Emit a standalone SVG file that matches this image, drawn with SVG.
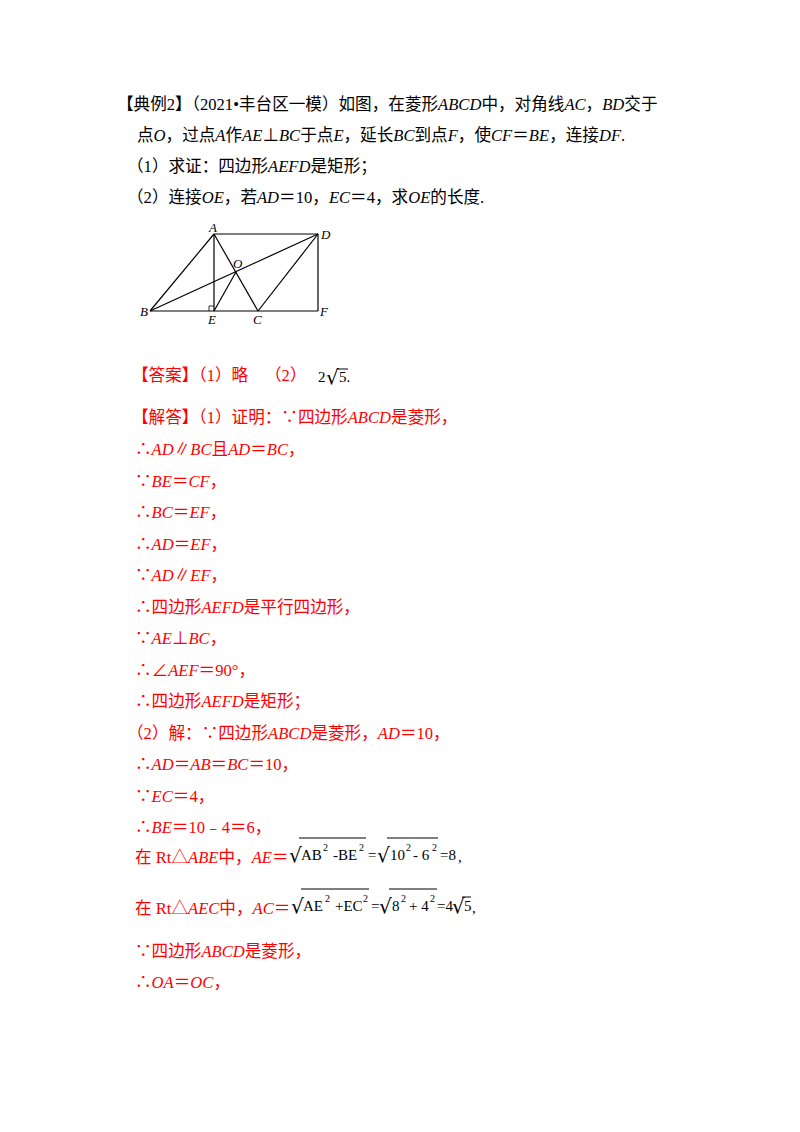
<svg xmlns="http://www.w3.org/2000/svg" width="800" height="1132" viewBox="0 0 800 1132">
<style>
text{font-family:"Liberation Serif","Noto Sans CJK SC",serif;font-size:16.6px;fill:#000}
.r{fill:#ff0000}
.i{font-style:italic}
.f{font-family:"Liberation Serif",serif;font-size:15px}
.q{font-family:"DejaVu Sans",sans-serif;font-size:20px}
.p{font-family:"Liberation Serif",serif;font-size:10px}
.lb{font-style:italic;font-size:13px}
line.g{stroke:#000;stroke-width:1.2}
line.s{stroke:#000;stroke-width:1}
</style>
<rect width="800" height="1132" fill="#fff"/>
<text x="117" y="110">【典例2】（2021•丰台区一模）如图，在菱形<tspan class="i">ABCD</tspan>中，对角线<tspan class="i">AC</tspan>，<tspan class="i">BD</tspan>交于</text>
<text x="137" y="141">点<tspan class="i">O</tspan>，过点<tspan class="i">A</tspan>作<tspan class="i">AE</tspan>⊥<tspan class="i">BC</tspan>于点<tspan class="i">E</tspan>，延长<tspan class="i">BC</tspan>到点<tspan class="i">F</tspan>，使<tspan class="i">CF</tspan>＝<tspan class="i">BE</tspan>，连接<tspan class="i">DF</tspan>.</text>
<text x="127" y="172">（1）求证：四边形<tspan class="i">AEFD</tspan>是矩形；</text>
<text x="127" y="203">（2）连接<tspan class="i">OE</tspan>，若<tspan class="i">AD</tspan>＝10，<tspan class="i">EC</tspan>＝4，求<tspan class="i">OE</tspan>的长度.</text>
<g id="figure">
<line class="g" x1="214" y1="234" x2="318" y2="234"/>
<line class="g" x1="150" y1="311" x2="318" y2="311"/>
<line class="g" x1="214" y1="234" x2="214" y2="311"/>
<line class="g" x1="318" y1="234" x2="318" y2="311"/>
<line class="g" x1="150" y1="311" x2="214" y2="234"/>
<line class="g" x1="214" y1="234" x2="258" y2="311"/>
<line class="g" x1="150" y1="311" x2="318" y2="234"/>
<line class="g" x1="258" y1="311" x2="318" y2="234"/>
<line class="g" x1="214" y1="311" x2="236" y2="272"/>
<polyline points="209,311 209,306 214,306" fill="none" stroke="#000" stroke-width="0.8"/>
<text class="lb" x="209" y="232">A</text>
<text class="lb" x="321" y="239">D</text>
<text class="lb" x="140" y="316">B</text>
<text class="lb" x="208" y="324">E</text>
<text class="lb" x="253" y="324">C</text>
<text class="lb" x="320" y="316">F</text>
<text class="lb" x="233" y="268">O</text>
</g>
<text class="r" x="132" y="381">【答案】（1）略</text>
<text class="r" x="265" y="381">（2）</text>
<text class="f" x="318" y="382">2</text>
<text class="q" x="326" y="384">√</text>
<text class="f" x="339" y="382">5.</text>
<line class="s" x1="337" y1="369" x2="348" y2="369"/>
<text class="r" x="132" y="423">【解答】（1）证明：∵四边形<tspan class="i">ABCD</tspan>是菱形，</text>
<text class="r" x="135" y="455">∴<tspan class="i">AD</tspan>∥<tspan class="i">BC</tspan>且<tspan class="i">AD</tspan>＝<tspan class="i">BC</tspan>，</text>
<text class="r" x="135" y="487">∵<tspan class="i">BE</tspan>＝<tspan class="i">CF</tspan>，</text>
<text class="r" x="135" y="518">∴<tspan class="i">BC</tspan>＝<tspan class="i">EF</tspan>，</text>
<text class="r" x="135" y="550">∴<tspan class="i">AD</tspan>＝<tspan class="i">EF</tspan>，</text>
<text class="r" x="135" y="581">∵<tspan class="i">AD</tspan>∥<tspan class="i">EF</tspan>，</text>
<text class="r" x="135" y="613">∴四边形<tspan class="i">AEFD</tspan>是平行四边形，</text>
<text class="r" x="135" y="644">∵<tspan class="i">AE</tspan>⊥<tspan class="i">BC</tspan>，</text>
<text class="r" x="135" y="676">∴∠<tspan class="i">AEF</tspan>＝90°，</text>
<text class="r" x="135" y="707">∴四边形<tspan class="i">AEFD</tspan>是矩形；</text>
<text class="r" x="127" y="739">（2）解：∵四边形<tspan class="i">ABCD</tspan>是菱形，<tspan class="i">AD</tspan>＝10，</text>
<text class="r" x="135" y="770">∴<tspan class="i">AD</tspan>＝<tspan class="i">AB</tspan>＝<tspan class="i">BC</tspan>＝10，</text>
<text class="r" x="135" y="802">∵<tspan class="i">EC</tspan>＝4，</text>
<text class="r" x="135" y="833">∴<tspan class="i">BE</tspan>＝10﹣4＝6，</text>
<text class="r" x="135" y="863">在 Rt△<tspan class="i">ABE</tspan>中，<tspan class="i">AE</tspan>＝</text>
<g id="f1">
<text class="q" x="289" y="862">√</text>
<text class="f" x="301" y="860">AB</text>
<text class="p" x="323" y="851">2</text>
<text class="f" x="333" y="860">-BE</text>
<text class="p" x="359" y="851">2</text>
<text class="f" x="368" y="860">=</text>
<text class="q" x="377" y="862">√</text>
<text class="f" x="390" y="860">10</text>
<text class="p" x="406" y="851">2</text>
<text class="f" x="413" y="860">- 6</text>
<text class="p" x="432" y="851">2</text>
<text class="f" x="440" y="860">=8</text>
<text class="f" x="458" y="862">,</text>
<line class="s" x1="299" y1="838" x2="366" y2="838"/>
<line class="s" x1="387" y1="838" x2="438" y2="838"/>
</g>
<text class="r" x="135" y="914">在 Rt△<tspan class="i">AEC</tspan>中，<tspan class="i">AC</tspan>＝</text>
<g id="f2">
<text class="q" x="291" y="913">√</text>
<text class="f" x="303" y="911">AE</text>
<text class="p" x="325" y="902">2</text>
<text class="f" x="335" y="911">+EC</text>
<text class="p" x="363" y="902">2</text>
<text class="f" x="371" y="911">=</text>
<text class="q" x="379" y="913">√</text>
<text class="f" x="392" y="911">8</text>
<text class="p" x="401" y="902">2</text>
<text class="f" x="409" y="911">+ 4</text>
<text class="p" x="430" y="902">2</text>
<text class="f" x="437" y="911">=4</text>
<text class="q" x="452" y="913">√</text>
<text class="f" x="464" y="911">5</text>
<text class="f" x="472" y="913">,</text>
<line class="s" x1="301" y1="889" x2="369" y2="889"/>
<line class="s" x1="389" y1="889" x2="437" y2="889"/>
<line class="s" x1="462" y1="897" x2="471" y2="897"/>
</g>
<text class="r" x="135" y="957">∵四边形<tspan class="i">ABCD</tspan>是菱形，</text>
<text class="r" x="135" y="988">∴<tspan class="i">OA</tspan>＝<tspan class="i">OC</tspan>，</text>
</svg>
